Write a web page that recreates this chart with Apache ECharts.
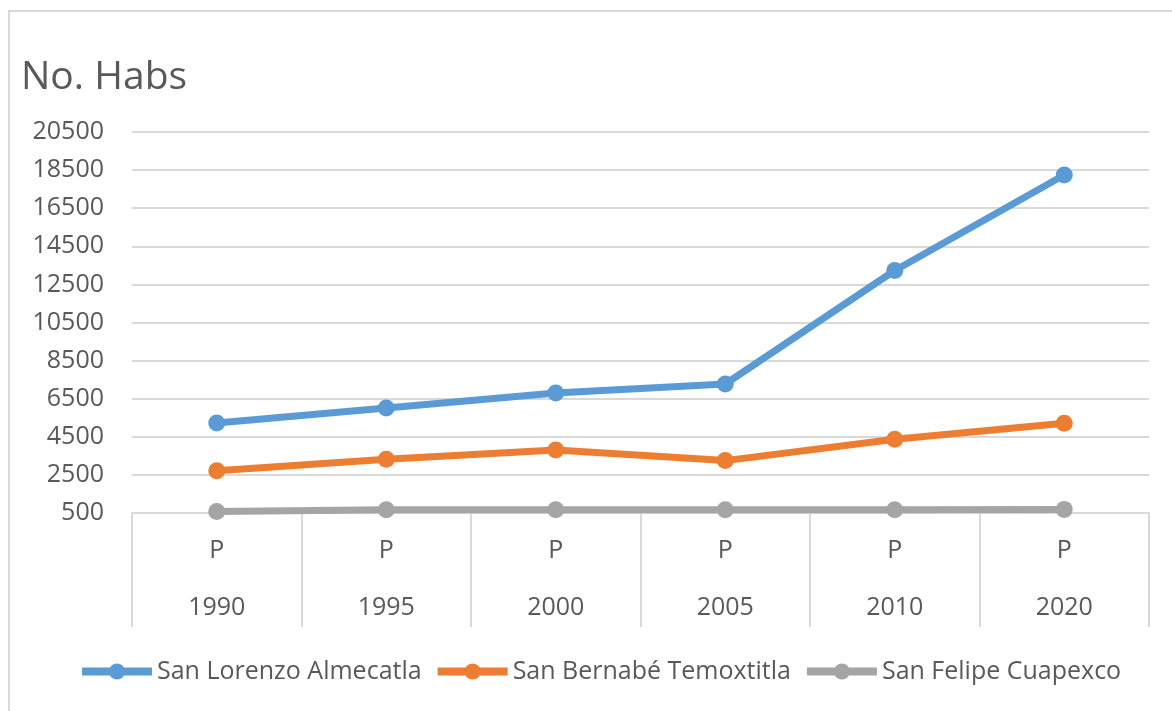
<!DOCTYPE html>
<html>
<head>
<meta charset="utf-8">
<script src="https://cdn.jsdelivr.net/npm/echarts@6/dist/echarts.min.js"></script>
<style>
  html, body { margin: 0; padding: 0; background: #fff; }
  #frame { position: absolute; left: 8px; top: 10px; width: 1200px; height: 740px;
           border-top: 2px solid #d9d9d9; border-left: 2px solid #d9d9d9; }
  #chart { position: absolute; left: 0; top: 0; width: 1172px; height: 711px; }
</style>
</head>
<body>
<div id="frame"></div>
<div id="chart"></div>
<script>
// categorías (dos niveles: P / año)
const years = ['1990', '1995', '2000', '2005', '2010', '2020']
const period = 'P'

// habitantes por localidad
const sanLorenzo = [5220, 6010, 6800, 7270, 13230, 18240]
const sanBernabe = [2720, 3320, 3810, 3250, 4370, 5210]
const sanFelipe = [580, 670, 670, 670, 670, 690]

const yTicks = { min: 500, max: 20500, interval: 2000 }

const font = 'Open Sans'
const textColor = '#595959'
const lineColor = '#d9d9d9'

const chart = echarts.init(document.getElementById('chart'))

function lineSeries(name, data, color) {
  return {
    name: name,
    type: 'line',
    data: data,
    symbol: 'circle',
    symbolSize: 17,
    showAllSymbol: true,
    lineStyle: { width: 7, color: color },
    itemStyle: { color: color },
    emphasis: { disabled: true }
  }
}

chart.setOption({
  animation: false,
  color: ['#5B9BD5', '#ED7D31', '#A5A5A5'],
  textStyle: { fontFamily: font },
  title: {
    text: 'No. Habs',
    left: 16,
    top: 53,
    textStyle: { fontFamily: font, fontSize: 39, fontWeight: 'normal', color: textColor }
  },
  grid: {
    left: 132,
    right: 23,
    top: 132,
    bottom: 198
  },
  legend: {
    bottom: 22,
    left: 73,
    itemWidth: 70,
    itemHeight: 20,
    itemGap: 12,
    lineStyle: { width: 8 },
    textStyle: { fontFamily: font, fontSize: 25, color: textColor },
    data: ['San Lorenzo Almecatla', 'San Bernabé Temoxtitla', 'San Felipe Cuapexco']
  },
  xAxis: {
    type: 'category',
    data: years,
    boundaryGap: true,
    axisLine: { lineStyle: { color: lineColor, width: 2 } },
    axisTick: { show: true, alignWithLabel: false, length: 114, lineStyle: { color: lineColor, width: 2 } },
    axisLabel: {
      margin: 9,
      interval: 0,
      formatter: function (v) {
        return '{p|' + period + '}\n{y|' + v + '}'
      },
      rich: {
        p: { fontFamily: font, fontSize: 25, color: textColor, lineHeight: 57 },
        y: { fontFamily: font, fontSize: 25, color: textColor, lineHeight: 57 }
      }
    }
  },
  yAxis: {
    type: 'value',
    min: yTicks.min,
    max: yTicks.max,
    interval: yTicks.interval,
    axisLine: { show: false },
    axisTick: { show: false },
    axisLabel: {
      fontFamily: font, fontSize: 25, color: textColor, margin: 28,
      formatter: function (v) { return String(v) }
    },
    splitLine: { lineStyle: { color: lineColor, width: 2 } }
  },
  series: [
    lineSeries('San Lorenzo Almecatla', sanLorenzo, '#5B9BD5'),
    lineSeries('San Bernabé Temoxtitla', sanBernabe, '#ED7D31'),
    lineSeries('San Felipe Cuapexco', sanFelipe, '#A5A5A5')
  ]
})
</script>
</body>
</html>
